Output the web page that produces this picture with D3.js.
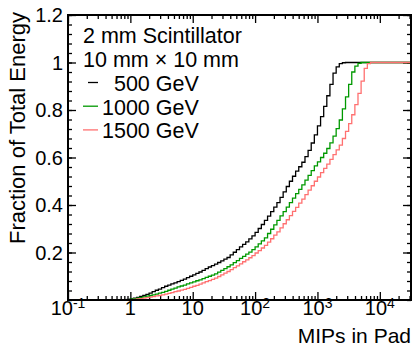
<!DOCTYPE html>
<html>
<head>
<meta charset="utf-8">
<script src="https://cdn.jsdelivr.net/npm/d3@7"></script>
<style>
body { margin: 0; background: #fff; }
svg { display: block; font-family: "Liberation Sans", Arial, Helvetica, sans-serif; }
</style>
</head>
<body>
<div id="chart"></div>
<script>
// cumulative energy fraction per log bin (20 bins / decade, from 10^-1 to 10^4.5)
var binLow = -1;
var binStep = 0.05;

var values500 = [
  0,0,0,0,0,0,0,0,0,0,0,0,0,0,0,0,0,0,0.001,0.003,
  0.005,0.008,0.011,0.015,0.019,0.024,0.029,0.035,0.041,0.046,
  0.052,0.058,0.063,0.068,0.072,0.077,0.083,0.088,0.094,0.100,
  0.106,0.112,0.118,0.125,0.132,0.139,0.145,0.151,0.158,0.165,
  0.172,0.179,0.190,0.201,0.212,0.224,0.234,0.245,0.257,0.270,
  0.285,0.301,0.318,0.335,0.353,0.372,0.391,0.410,0.432,0.455,
  0.478,0.500,0.521,0.543,0.561,0.580,0.604,0.630,0.661,0.695,
  0.733,0.772,0.815,0.860,0.908,0.955,0.982,0.995,0.999,
  1,1,1,1,1,1,1,1,1,1,1,1,1,1,1,1,1,1,1,1,1
];

var values1000 = [
  0,0,0,0,0,0,0,0,0,0,0,0,0,0,0,0,0,0,0.001,0.002,
  0.004,0.006,0.008,0.010,0.013,0.016,0.019,0.022,0.025,0.029,
  0.032,0.036,0.041,0.046,0.050,0.055,0.059,0.063,0.068,0.072,
  0.076,0.081,0.085,0.090,0.095,0.100,0.105,0.110,0.117,0.125,
  0.132,0.140,0.148,0.157,0.166,0.175,0.184,0.193,0.202,0.212,
  0.224,0.236,0.249,0.262,0.280,0.298,0.316,0.335,0.354,0.372,
  0.391,0.410,0.429,0.448,0.466,0.485,0.505,0.525,0.545,0.565,
  0.582,0.600,0.618,0.638,0.662,0.690,0.722,0.758,0.805,0.855,
  0.908,0.960,0.985,0.996,
  1,1,1,1,1,1,1,1,1,1,1,1,1,1,1,1
];

var values1500 = [
  0,0,0,0,0,0,0,0,0,0,0,0,0,0,0,0,0,0,0,0.001,
  0.002,0.003,0.005,0.006,0.008,0.010,0.012,0.014,0.017,0.019,
  0.022,0.025,0.028,0.031,0.035,0.038,0.042,0.045,0.049,0.053,
  0.058,0.062,0.067,0.072,0.077,0.082,0.087,0.092,0.099,0.106,
  0.113,0.120,0.128,0.136,0.144,0.152,0.161,0.169,0.178,0.187,
  0.198,0.208,0.219,0.230,0.244,0.258,0.273,0.287,0.304,0.321,
  0.338,0.355,0.373,0.390,0.408,0.425,0.444,0.463,0.481,0.500,
  0.518,0.536,0.554,0.572,0.592,0.612,0.632,0.652,0.680,0.710,
  0.743,0.780,0.823,0.870,0.922,0.975,0.995,
  1,1,1,1,1,1,1,1,1,1,1,1,1
];

var seriesNames = ["  500 GeV", "1000 GeV", "1500 GeV"];
var seriesColors = ["#000000", "#009900", "#ff7070"];
var seriesValues = [values500, values1000, values1500];

var headerLines = ["2 mm Scintillator", "10 mm \u00d7 10 mm"];

var xTickValues = [0.1, 1, 10, 100, 1000, 10000];
var xTickBase = ["10", "1", "10", "10", "10", "10"];
var xTickSup = ["-1", "", "", "2", "3", "4"];

var yTickValues = [0.2, 0.4, 0.6, 0.8, 1, 1.2];
var yTickLabels = ["0.2", "0.4", "0.6", "0.8", "1", "1.2"];

var svgWidth = 413;
var svgHeight = 348;
var margin = { top: 15, right: 2, bottom: 48, left: 68 };
var width = svgWidth - margin.left - margin.right;
var height = svgHeight - margin.top - margin.bottom;

var svg = d3.select("#chart").append("svg")
    .attr("width", svgWidth)
    .attr("height", svgHeight);

var chartGroup = svg.append("g")
    .attr("transform", "translate(" + margin.left + "," + margin.top + ")");

var x = d3.scaleLog().domain([0.1, Math.pow(10, 4.5)]).range([0, width]);
var y = d3.scaleLinear().domain([0, 1.2]).range([height, 0]);

// minor tick positions
var xMinor = [];
for (var e = -1; e <= 4; e++) {
    for (var m = 2; m <= 9; m++) {
        var v = m * Math.pow(10, e);
        if (v <= x.domain()[1]) xMinor.push(v);
    }
}
var yMinor = d3.range(0, 31).map(function(i) { return i * 0.04; });

function tickAxis(axis, vals, size) {
    return axis.tickValues(vals).tickSize(size).tickSizeOuter(0).tickFormat("");
}

var axes = [
    [d3.axisBottom(x), xTickValues, -8, "translate(0," + height + ")"],
    [d3.axisBottom(x), xMinor, -4, "translate(0," + height + ")"],
    [d3.axisTop(x), xTickValues, -8, null],
    [d3.axisTop(x), xMinor, -4, null],
    [d3.axisLeft(y), yTickValues, -8, null],
    [d3.axisLeft(y), yMinor, -4, null],
    [d3.axisRight(y), yTickValues, -8, "translate(" + width + ",0)"],
    [d3.axisRight(y), yMinor, -4, "translate(" + width + ",0)"]
];
axes.forEach(function(a) {
    var g = chartGroup.append("g").call(tickAxis(a[0], a[1], a[2]));
    if (a[3]) g.attr("transform", a[3]);
    g.select(".domain").remove();
    g.selectAll("line").attr("stroke", "#000").attr("stroke-width", 1.3);
});

// histograms
var edges = d3.range(values500.length + 1).map(function(i) {
    return Math.pow(10, binLow + i * binStep);
});

var line = d3.line()
    .x(function(d) { return x(d[0]); })
    .y(function(d) { return y(d[1]); })
    .curve(d3.curveStepAfter);

seriesValues.forEach(function(vals, k) {
    var pts = vals.map(function(v, i) { return [edges[i], v]; });
    pts.push([edges[vals.length], vals[vals.length - 1]]);
    chartGroup.append("path")
        .datum(pts)
        .attr("d", line)
        .attr("fill", "none")
        .attr("stroke", seriesColors[k])
        .attr("stroke-width", 1.3);
});

// frame
chartGroup.append("rect")
    .attr("width", width)
    .attr("height", height)
    .attr("fill", "none")
    .attr("stroke", "#000")
    .attr("stroke-width", 2);

// x tick labels
xTickValues.forEach(function(v, i) {
    var t = chartGroup.append("text")
        .attr("x", x(v))
        .attr("y", height + 15)
        .attr("text-anchor", "middle")
        .attr("font-size", 20);
    t.append("tspan").text(xTickBase[i]);
    if (xTickSup[i]) {
        t.append("tspan").attr("dy", -7).attr("font-size", 14).text(xTickSup[i]);
    }
});

// y tick labels
yTickValues.forEach(function(v, i) {
    chartGroup.append("text")
        .attr("x", -5)
        .attr("y", y(v) + 7)
        .attr("text-anchor", "end")
        .attr("font-size", 20)
        .text(yTickLabels[i]);
});

// axis titles
svg.append("text")
    .attr("x", margin.left + width)
    .attr("y", 343)
    .attr("text-anchor", "end")
    .attr("font-size", 21)
    .text("MIPs in Pad");

svg.append("text")
    .attr("transform", "translate(25,12) rotate(-90)")
    .attr("text-anchor", "end")
    .attr("font-size", 22)
    .text("Fraction of Total Energy");

// legend
var legend = svg.append("g");
headerLines.forEach(function(s, i) {
    legend.append("text")
        .attr("x", 83)
        .attr("y", 43 + i * 24)
        .attr("font-size", 21.5)
        .text(s);
});
seriesNames.forEach(function(s, k) {
    var by = 91 + k * 23.7;
    legend.append("line")
        .attr("x1", k === 0 ? 88 : 83).attr("x2", 98)
        .attr("y1", by - 8.5).attr("y2", by - 8.5)
        .attr("stroke", seriesColors[k])
        .attr("stroke-width", 1.3);
    legend.append("text")
        .attr("x", 102)
        .attr("y", by)
        .attr("font-size", 21.5)
        .style("white-space", "pre")
        .attr("xml:space", "preserve")
        .text(s);
});
</script>
</body>
</html>
